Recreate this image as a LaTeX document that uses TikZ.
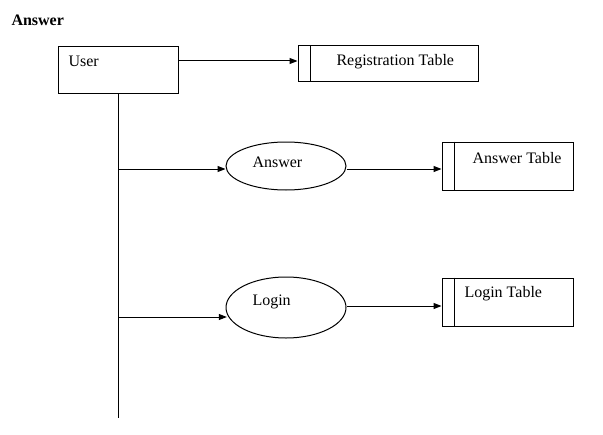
\documentclass[tikz,border=0pt]{standalone}
\usepackage{fontspec}
\setmainfont{Liberation Serif}
\usetikzlibrary{arrows.meta, shapes.geometric}
\tikzset{
    userbox/.style={draw, rectangle, inner sep=0, minimum width=90pt, minimum height=35.25pt},
    tablebox/.style={draw, rectangle, inner sep=0, minimum height=#1},
    tablebox/.default=36pt,
    process/.style={draw, ellipse, inner sep=0, minimum width=90pt},
    txt/.style={anchor=base west, inner sep=0},
    flow/.style={-{Triangle[length=6pt,width=4.5pt]}}
}

\begin{document}
\begin{tikzpicture}[x=0.75pt, y=-0.75pt, line width=0.75pt, font=\fontsize{12}{14}\selectfont]
\useasboundingbox (0,0) rectangle (603,435);
\node[txt, font=\fontsize{12}{14}\selectfont\bfseries] (title) at (11,25.5) {Answer};
% shapes
\node[userbox] (user) at (118,70.5) {};
\node[tablebox=27pt, minimum width=135pt] (regtab) at (388,64) {};
\node[process, minimum height=36pt] (answer) at (286,166) {};
\node[tablebox, minimum width=98.25pt] (anstab) at (507.5,166) {};
\node[process, minimum height=45.75pt] (login) at (286,307.5) {};
\node[tablebox, minimum width=98.25pt] (logtab) at (507.5,302) {};
\coordinate (trunkend) at (118,418);
% texts
\node[txt] (usertxt) at (68,66.5) {User};
\node[txt] (regtxt) at (336,65) {Registration Table};
\node[txt] (anstxt) at (252,167.5) {Answer};
\node[txt] (anstabtxt) at (472,163.3) {Answer Table};
\node[txt] (logtxt) at (252,305) {Login};
\node[txt] (logtabtxt) at (464,297.7) {Login Table};
\foreach \t in {regtab,anstab,logtab}
    \draw ([xshift=9.375pt]\t.north west) -- ([xshift=9.375pt]\t.south west);
% connectors
\draw (user.south) -- (trunkend);
\draw[flow] (user.east |- 0,61) -- (regtab.west |- 0,61);
\draw[flow] (trunkend |- 0,169) -- (answer.west |- 0,169);
\draw[flow] (answer.east |- 0,169) -- (anstab.west |- 0,169);
\draw[flow] (trunkend |- 0,317) -- ([xshift=1pt]login.west |- 0,317);
\draw[flow] (login.east |- 0,306) -- (logtab.west |- 0,306);
\end{tikzpicture}
\end{document}
